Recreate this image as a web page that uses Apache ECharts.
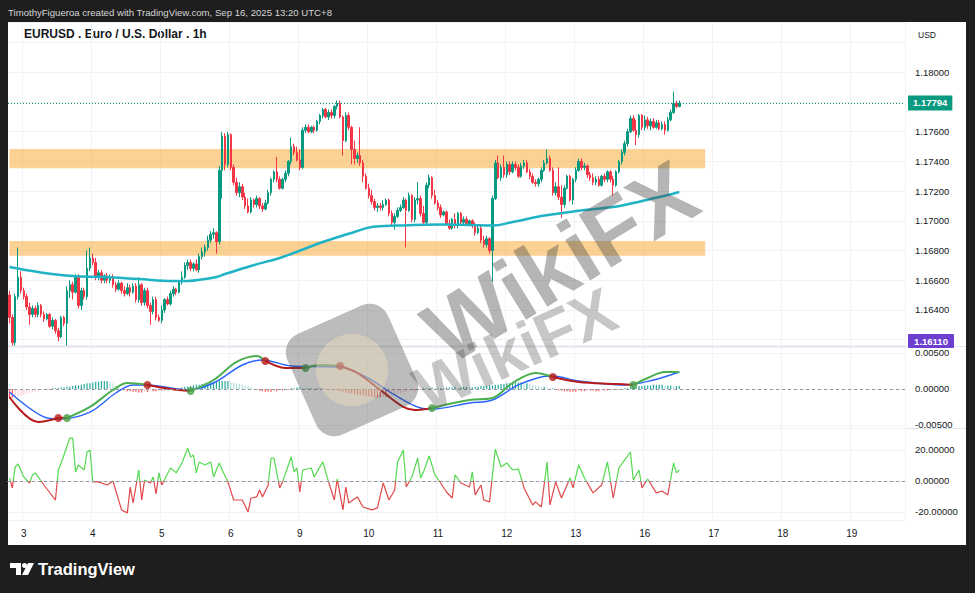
<!DOCTYPE html>
<html><head><meta charset="utf-8">
<script src="https://cdn.jsdelivr.net/npm/echarts@6/dist/echarts.min.js"></script>
<style>
html,body{margin:0;padding:0;background:#1e1e1e;width:975px;height:593px;overflow:hidden;}
#panel{position:absolute;left:8px;top:22px;width:958px;height:523px;background:#fff;}
#chart{position:absolute;left:0;top:0;width:975px;height:593px;}
</style></head><body>
<div id="panel"></div><div id="chart"></div>
<script>
// ---------------- DATA ----------------
const dayLabels = ['3','4','5','6','9','10','11','12','13','16','17','18','19'];
const priceTicks = [1.164,1.166,1.168,1.170,1.172,1.174,1.176,1.180];
const macdTicks = [-0.005,0,0.005];
const oscTicks = [-20,0,20];
// hourly candles: [open, close, low, high]
const candles = [
[1.1650,1.1635,1.1631,1.1653],[1.1635,1.1618,1.1616,1.1637],[1.1618,1.1649,1.1616,1.1651],[1.1649,1.1662,1.1647,1.1682],
[1.1662,1.1653,1.1651,1.1666],[1.1653,1.1649,1.1647,1.1655],[1.1649,1.1642,1.1640,1.1651],[1.1642,1.1637,1.1630,1.1645],
[1.1637,1.1641,1.1635,1.1643],[1.1641,1.1637,1.1635,1.1643],[1.1637,1.1643,1.1635,1.1645],[1.1643,1.1637,1.1635,1.1644],
[1.1637,1.1634,1.1632,1.1639],[1.1634,1.1637,1.1633,1.1638],[1.1637,1.1629,1.1628,1.1638],[1.1629,1.1633,1.1627,1.1635],
[1.1633,1.1626,1.1624,1.1634],[1.1626,1.1622,1.1619,1.1628],[1.1622,1.1635,1.1621,1.1636],[1.1635,1.1631,1.1629,1.1636],
[1.1631,1.1653,1.1616,1.1656],[1.1653,1.1657,1.1648,1.1660],[1.1657,1.1652,1.1647,1.1659],[1.1652,1.1662,1.1651,1.1664],
[1.1662,1.1643,1.1641,1.1664],[1.1643,1.1653,1.1640,1.1655],[1.1653,1.1649,1.1647,1.1655],[1.1649,1.1668,1.1647,1.1680],
[1.1668,1.1675,1.1666,1.1682],[1.1675,1.1672,1.1670,1.1678],[1.1672,1.1662,1.1660,1.1675],[1.1662,1.1665,1.1660,1.1667],
[1.1665,1.1660,1.1658,1.1667],[1.1660,1.1663,1.1658,1.1664],[1.1663,1.1660,1.1658,1.1665],[1.1660,1.1662,1.1658,1.1664],
[1.1662,1.1657,1.1655,1.1664],[1.1657,1.1654,1.1652,1.1659],[1.1654,1.1658,1.1653,1.1660],[1.1658,1.1653,1.1651,1.1659],
[1.1653,1.1651,1.1649,1.1656],[1.1651,1.1655,1.1650,1.1658],[1.1655,1.1652,1.1649,1.1657],[1.1652,1.1656,1.1651,1.1658],
[1.1656,1.1647,1.1645,1.1658],[1.1647,1.1657,1.1645,1.1662],[1.1657,1.1645,1.1643,1.1658],[1.1645,1.1653,1.1643,1.1655],
[1.1653,1.1643,1.1641,1.1655],[1.1643,1.1639,1.1630,1.1645],[1.1639,1.1647,1.1637,1.1649],[1.1647,1.1635,1.1633,1.1649],
[1.1635,1.1633,1.1632,1.1637],[1.1633,1.1640,1.1631,1.1643],[1.1640,1.1647,1.1638,1.1648],[1.1647,1.1644,1.1643,1.1649],
[1.1644,1.1651,1.1643,1.1653],[1.1651,1.1654,1.1649,1.1656],[1.1654,1.1652,1.1650,1.1655],[1.1652,1.1659,1.1651,1.1660],
[1.1659,1.1662,1.1657,1.1666],[1.1662,1.1670,1.1661,1.1672],[1.1670,1.1672,1.1667,1.1674],[1.1672,1.1668,1.1666,1.1674],
[1.1668,1.1671,1.1666,1.1672],[1.1671,1.1667,1.1666,1.1674],[1.1667,1.1676,1.1665,1.1678],[1.1676,1.1679,1.1674,1.1682],
[1.1679,1.1682,1.1676,1.1684],[1.1682,1.1687,1.1680,1.1690],[1.1687,1.1691,1.1685,1.1693],[1.1691,1.1692,1.1688,1.1695],
[1.1692,1.1686,1.1678,1.1693],[1.1686,1.1734,1.1684,1.1737],[1.1734,1.1757,1.1715,1.1760],[1.1757,1.1738,1.1734,1.1759],
[1.1738,1.1758,1.1736,1.1760],[1.1758,1.1736,1.1734,1.1759],[1.1736,1.1726,1.1724,1.1738],[1.1726,1.1719,1.1717,1.1729],
[1.1719,1.1723,1.1716,1.1726],[1.1723,1.1716,1.1714,1.1725],[1.1716,1.1710,1.1708,1.1719],[1.1710,1.1706,1.1705,1.1715],
[1.1706,1.1714,1.1705,1.1716],[1.1714,1.1711,1.1709,1.1715],[1.1711,1.1715,1.1709,1.1717],[1.1715,1.1710,1.1708,1.1716],
[1.1710,1.1708,1.1706,1.1712],[1.1708,1.1712,1.1707,1.1714],[1.1712,1.1719,1.1711,1.1721],[1.1719,1.1728,1.1717,1.1729],
[1.1728,1.1733,1.1726,1.1734],[1.1733,1.1728,1.1726,1.1743],[1.1728,1.1722,1.1721,1.1730],[1.1722,1.1728,1.1721,1.1729],
[1.1728,1.1732,1.1726,1.1734],[1.1732,1.1740,1.1730,1.1741],[1.1740,1.1750,1.1738,1.1756],[1.1750,1.1746,1.1744,1.1752],
[1.1746,1.1741,1.1740,1.1750],[1.1741,1.1736,1.1734,1.1748],[1.1736,1.1761,1.1735,1.1763],[1.1761,1.1763,1.1759,1.1765],
[1.1763,1.1760,1.1759,1.1765],[1.1760,1.1763,1.1759,1.1764],[1.1763,1.1761,1.1759,1.1764],[1.1761,1.1767,1.1760,1.1768],
[1.1767,1.1771,1.1765,1.1772],[1.1771,1.1775,1.1769,1.1776],[1.1775,1.1770,1.1769,1.1776],[1.1770,1.1773,1.1768,1.1775],
[1.1773,1.1771,1.1769,1.1775],[1.1771,1.1777,1.1769,1.1778],[1.1777,1.1779,1.1775,1.1781],[1.1779,1.1770,1.1769,1.1781],
[1.1770,1.1754,1.1744,1.1771],[1.1754,1.1771,1.1753,1.1773],[1.1771,1.1763,1.1761,1.1773],[1.1763,1.1748,1.1738,1.1764],
[1.1748,1.1742,1.1738,1.1754],[1.1742,1.1744,1.1739,1.1746],[1.1744,1.1739,1.1737,1.1763],[1.1739,1.1730,1.1726,1.1741],
[1.1730,1.1722,1.1721,1.1732],[1.1722,1.1717,1.1715,1.1725],[1.1717,1.1713,1.1711,1.1721],[1.1713,1.1709,1.1707,1.1715],
[1.1709,1.1710,1.1706,1.1712],[1.1710,1.1709,1.1707,1.1712],[1.1709,1.1711,1.1707,1.1714],[1.1711,1.1714,1.1710,1.1715],
[1.1714,1.1705,1.1703,1.1715],[1.1705,1.1699,1.1697,1.1707],[1.1699,1.1703,1.1694,1.1705],[1.1703,1.1707,1.1702,1.1709],
[1.1707,1.1709,1.1706,1.1711],[1.1709,1.1714,1.1708,1.1716],[1.1714,1.1707,1.1682,1.1715],[1.1707,1.1717,1.1706,1.1719],
[1.1717,1.1701,1.1699,1.1718],[1.1701,1.1714,1.1699,1.1716],[1.1714,1.1715,1.1711,1.1726],[1.1715,1.1705,1.1703,1.1717],
[1.1705,1.1699,1.1697,1.1710],[1.1699,1.1724,1.1697,1.1726],[1.1724,1.1729,1.1722,1.1731],[1.1729,1.1717,1.1715,1.1730],
[1.1717,1.1712,1.1711,1.1721],[1.1712,1.1709,1.1707,1.1714],[1.1709,1.1704,1.1702,1.1711],[1.1704,1.1706,1.1703,1.1707],
[1.1706,1.1698,1.1697,1.1707],[1.1698,1.1695,1.1694,1.1701],[1.1695,1.1701,1.1694,1.1702],[1.1701,1.1697,1.1695,1.1705],
[1.1697,1.1705,1.1695,1.1706],[1.1705,1.1699,1.1697,1.1706],[1.1699,1.1701,1.1697,1.1703],[1.1701,1.1698,1.1697,1.1703],
[1.1698,1.1700,1.1697,1.1701],[1.1700,1.1697,1.1695,1.1701],[1.1697,1.1692,1.1690,1.1699],[1.1692,1.1695,1.1691,1.1697],
[1.1695,1.1687,1.1685,1.1697],[1.1687,1.1684,1.1682,1.1690],[1.1684,1.1688,1.1682,1.1690],[1.1688,1.1680,1.1678,1.1689],
[1.1680,1.1715,1.1659,1.1717],[1.1715,1.1739,1.1714,1.1741],[1.1739,1.1729,1.1728,1.1744],[1.1729,1.1736,1.1727,1.1738],
[1.1736,1.1731,1.1729,1.1744],[1.1731,1.1738,1.1729,1.1740],[1.1738,1.1733,1.1731,1.1740],[1.1733,1.1738,1.1732,1.1740],
[1.1738,1.1736,1.1734,1.1740],[1.1736,1.1730,1.1729,1.1738],[1.1730,1.1737,1.1729,1.1739],[1.1737,1.1739,1.1735,1.1741],
[1.1739,1.1733,1.1732,1.1741],[1.1733,1.1730,1.1728,1.1735],[1.1730,1.1726,1.1725,1.1732],[1.1726,1.1725,1.1723,1.1728],
[1.1725,1.1728,1.1723,1.1729],[1.1728,1.1734,1.1726,1.1736],[1.1734,1.1739,1.1733,1.1741],[1.1739,1.1742,1.1738,1.1748],
[1.1742,1.1734,1.1733,1.1744],[1.1734,1.1719,1.1717,1.1736],[1.1719,1.1723,1.1717,1.1726],[1.1723,1.1716,1.1714,1.1736],
[1.1716,1.1711,1.1702,1.1724],[1.1711,1.1722,1.1709,1.1724],[1.1722,1.1730,1.1721,1.1731],[1.1730,1.1714,1.1713,1.1731],
[1.1714,1.1728,1.1711,1.1729],[1.1728,1.1734,1.1726,1.1736],[1.1734,1.1740,1.1733,1.1742],[1.1740,1.1736,1.1734,1.1742],
[1.1736,1.1737,1.1734,1.1739],[1.1737,1.1731,1.1729,1.1738],[1.1731,1.1729,1.1727,1.1733],[1.1729,1.1726,1.1724,1.1732],
[1.1726,1.1728,1.1724,1.1730],[1.1728,1.1724,1.1723,1.1730],[1.1724,1.1730,1.1723,1.1731],[1.1730,1.1728,1.1726,1.1732],
[1.1728,1.1733,1.1726,1.1734],[1.1733,1.1728,1.1726,1.1734],[1.1728,1.1724,1.1717,1.1730],[1.1724,1.1733,1.1723,1.1734],
[1.1733,1.1740,1.1732,1.1741],[1.1740,1.1746,1.1738,1.1748],[1.1746,1.1752,1.1744,1.1754],[1.1752,1.1760,1.1750,1.1762],
[1.1760,1.1769,1.1759,1.1771],[1.1769,1.1761,1.1760,1.1771],[1.1761,1.1758,1.1751,1.1768],[1.1758,1.1771,1.1756,1.1772],
[1.1771,1.1763,1.1761,1.1772],[1.1763,1.1768,1.1761,1.1771],[1.1768,1.1764,1.1762,1.1770],[1.1764,1.1767,1.1761,1.1769],
[1.1767,1.1763,1.1762,1.1769],[1.1763,1.1766,1.1762,1.1768],[1.1766,1.1762,1.1761,1.1768],[1.1762,1.1765,1.1761,1.1767],
[1.1765,1.1761,1.1758,1.1767],[1.1761,1.1768,1.1760,1.1770],[1.1768,1.1773,1.1767,1.1775],[1.1773,1.1779,1.1772,1.1787],
[1.1779,1.1777,1.1776,1.1781],[1.17770,1.17794,1.17765,1.17810]
];
// slow moving average: [bar, value]
const maLine = [[0,1.16689],[10,1.16655],[22,1.16628],[33,1.16622],[45,1.16608],[57,1.16595],[62,1.16595],[68,1.16608],
[72,1.16622],[75,1.16642],[84,1.16696],[94,1.16750],[98,1.16777],[110,1.16864],[120,1.16925],[126,1.16958],[135,1.16968],
[150,1.16975],[160,1.16972],[168,1.16968],[175,1.16992],[185,1.17032],[200,1.17073],[210,1.17093],[217,1.17120],
[223,1.17147],[229,1.17174],[233,1.17194]];
// support / resistance zones [top, bottom, lastBar]
const zones = [[1.17483,1.17355,242],[1.16864,1.16765,242]];
const lowLabel = '1.16110';
// MACD panel
const macdFast = [[0,-0.00111],[10,-0.00458],[17,-0.00403],[20,-0.00403],[28,-0.00250],[36,-0.00014],[41,0.00083],[48,0.00056],
[56,0.0],[63,-0.00028],[71,0.00125],[79,0.00375],[86,0.00458],[89,0.00389],[96,0.00292],[103,0.00292],[108,0.00333],
[115,0.00320],[121,0.00222],[129,-0.00014],[137,-0.00250],[141,-0.00292],[147,-0.00264],[160,-0.00153],[168,-0.00125],
[175,0.00083],[183,0.00222],[189,0.00167],[198,0.00097],[211,0.00070],[217,0.00056],[222,0.00153],[228,0.00236],[233,0.00236]];
const macdSlow = [[0,-0.00042],[12,-0.00389],[17,-0.00417],[28,-0.00320],[37,-0.00056],[43,0.00056],[48,0.00056],[62,-0.00014],
[71,0.00083],[81,0.00333],[88,0.00403],[98,0.00320],[115,0.00306],[124,0.00167],[134,-0.00083],[143,-0.00264],[147,-0.00278],
[160,-0.00195],[168,-0.00153],[177,0.00056],[185,0.00167],[189,0.00181],[198,0.00111],[214,0.00056],[224,0.00125],[233,0.00236]];
const fastStartTrend = 'down';
const macdCross = [[17,-0.00403,'down'],[20,-0.00403,'up'],[48,0.00056,'down'],[63,-0.00028,'up'],[89,0.00389,'down'],
[103,0.00292,'up'],[115,0.00320,'down'],[147,-0.00264,'up'],[189,0.00167,'down'],[217,0.00056,'up']];
const macdHist = [
-0.0012,-0.0012,-0.0011,-0.0010,-0.0009,-0.0008,-0.0007,-0.0006,-0.0005,-0.0004,-0.0003,-0.0002,
-0.0001,-0.0001,-0.0001,0.0001,0.0001,0.0001,0.0002,0.0002,
0.0003,0.0003,0.0004,0.0005,0.0005,0.0006,0.0007,0.0008,0.0008,0.0009,0.0010,0.0010,0.0011,0.0011,0.0011,0.0010,0.0008,0.0005,0.0002,
-0.0001,-0.0002,-0.0003,-0.0003,-0.0004,-0.0004,-0.0005,-0.0005,-0.0004,-0.0004,-0.0003,-0.0003,-0.0003,-0.0002,-0.0002,-0.0002,-0.0001,-0.0001,-0.0001,0.0000,
0.0001,0.0002,0.0003,0.0003,0.0004,0.0005,0.0006,0.0006,0.0007,0.0008,0.0009,0.0009,0.0010,0.0010,0.0011,0.0011,0.0011,0.0011,0.0010,0.0009,0.0008,0.0007,0.0006,0.0005,0.0004,0.0003,0.0001,
-0.0001,-0.0002,-0.0003,-0.0004,-0.0004,-0.0004,-0.0003,-0.0003,-0.0002,-0.0002,-0.0001,-0.0001,0.0001,0.0001,0.0002,0.0002,0.0001,0.0001,0.0001,0.0001,0.0000,
0.0001,0.0001,0.0001,0.0000,-0.0001,-0.0001,-0.0002,-0.0002,-0.0003,
-0.0004,-0.0005,-0.0006,-0.0006,-0.0007,-0.0008,-0.0008,-0.0009,-0.0010,-0.0010,-0.0011,-0.0012,-0.0012,-0.0012,-0.0011,-0.0011,-0.0010,-0.0009,-0.0008,-0.0007,-0.0006,-0.0005,-0.0004,-0.0003,-0.0002,
-0.0002,-0.0001,-0.0001,0.0001,0.0001,0.0001,0.0002,0.0001,0.0001,0.0001,
0.0001,0.0002,0.0002,0.0002,0.0003,0.0002,0.0002,0.0003,0.0003,0.0002,0.0002,0.0003,0.0003,0.0004,0.0004,0.0004,0.0005,0.0005,0.0006,0.0006,0.0007,0.0007,0.0008,0.0008,0.0009,0.0009,0.0009,0.0009,0.0008,0.0008,0.0007,0.0006,0.0005,0.0004,0.0003,0.0003,0.0002,0.0001,0.0001,
-0.0001,-0.0002,-0.0002,-0.0003,-0.0003,-0.0004,-0.0004,-0.0004,-0.0003,-0.0003,-0.0003,-0.0002,-0.0002,-0.0002,-0.0003,-0.0003,-0.0002,-0.0002,-0.0002,-0.0001,-0.0001,-0.0001,-0.0001,0.0000,0.0001,0.0001,
0.0002,0.0003,0.0003,0.0004,0.0004,0.0005,0.0005,0.0005,0.0006,0.0006,0.0006,0.0006,0.0005,0.0005,0.0005,0.0004,0.0004,0.0004
];
// oscillator panel: [bar, value]
const osc = [[0,1.9],[1,-4.5],[2,9.0],[3,11.0],[5,2.6],[7,-1.3],[8,3.9],[9,5.2],[10,2.6],[12,-2.6],[16,-12.3],[17,7.1],[18,11.6],
[21,27.7],[22,27.7],[23,5.8],[24,10.3],[26,7.1],[27,18.7],[28,20.0],[29,-0.6],[31,-0.6],[34,-2.6],[36,0],[39,-18.7],[41,-20.6],
[42,-3.9],[43,-14.2],[45,7.1],[46,-12.3],[47,0.6],[49,-1.3],[50,2.6],[51,-8.4],[52,5.2],[53,-2.6],[56,8.4],[58,5.2],[60,11.6],
[62,21.3],[63,15.5],[64,16.8],[65,5.2],[66,12.3],[68,10.3],[70,12.3],[71,2.6],[73,11.6],[74,7.1],[76,-0.6],[78,-12.3],[81,-12.3],
[83,-20.0],[84,-11.0],[86,-10.3],[87,-5.8],[88,-10.3],[90,-2.6],[91,14.8],[92,14.8],[94,-4.5],[95,-0.6],[98,15.5],[99,5.8],
[100,8.4],[101,-7.1],[102,7.1],[105,8.4],[106,2.6],[109,12.3],[111,-0.6],[113,-12.3],[114,1.3],[116,-18.7],[117,-3.9],
[118,-14.2],[121,-10.3],[123,-16.8],[126,-18.7],[128,-17.4],[130,-1.3],[132,-12.3],[134,-5.8],[135,12.3],[137,20.0],[138,-3.9],
[140,2.6],[142,14.8],[143,1.9],[144,5.8],[146,16.1],[148,3.9],[150,-1.3],[152,-7.1],[154,-11.0],[155,3.9],[157,-1.3],[160,-3.9],
[161,5.8],[162,-9.0],[164,-2.6],[165,-12.3],[167,-13.5],[169,20.6],[171,9.0],[173,11.6],[175,7.1],[177,7.7],[178,1.9],[179,-4.5],
[182,-15.5],[183,-13.5],[185,-16.8],[187,12.3],[188,-15.5],[190,-0.6],[192,-11.0],[195,1.9],[196,-4.5],[198,10.3],[200,1.9],
[203,-7.7],[206,-2.6],[208,12.3],[210,-11.0],[212,8.4],[216,18.7],[217,0.6],[219,7.1],[220,-4.5],[222,1.3],[225,-7.7],
[227,-6.5],[229,-9.0],[231,11.6],[232,5.2],[233,7.1]];

// ---------------- CHART ----------------
const FONT = 'Liberation Sans, Arial, sans-serif';
const TXT = '#131722';
const UP = '#089981', DOWN = '#f23645';
const N_SLOTS = 312, FIRST_DAY_BAR = 5, BARS_PER_DAY = 24;
const categories = Array.from({length: N_SLOTS}, (_, i) => String(i));
const labelAt = {};
dayLabels.forEach((d, k) => { labelAt[FIRST_DAY_BAR + k * BARS_PER_DAY] = d; });
const isDay = (i) => labelAt[i] !== undefined;

function xAx(g, show) {
  return {
    type: 'category', gridIndex: g, data: categories, boundaryGap: true,
    axisLine: {show: show, lineStyle: {color: '#e0e3eb'}}, axisTick: {show: false},
    axisLabel: {show: show, interval: (i) => isDay(i), formatter: (v) => labelAt[+v] || '',
      color: TXT, fontSize: 10, margin: 8, fontFamily: FONT},
    splitLine: {show: true, interval: (i) => isDay(i), lineStyle: {color: '#f0f2f5', width: 1}}
  };
}
function yAx(g, min, max, step, ticks) {
  const shown = (v) => ticks.some(t => Math.abs(t - v) < step * 1e-3);
  return {
    type: 'value', gridIndex: g, position: 'right', min: min, max: max, minInterval: step, maxInterval: step,
    axisLine: {show: false}, axisTick: {show: false},
    axisLabel: {formatter: (v) => shown(v) ? v.toFixed(5) : '', color: TXT, fontSize: 9.5, margin: 10, fontFamily: FONT,
      showMinLabel: false, showMaxLabel: false},
    splitLine: {show: true, lineStyle: {color: '#f0f2f5'}}
  };
}

const lastPrice = candles[candles.length - 1][1];
const GREEN_L = '#4caf50', RED_L = '#b71c1c';

const histData = macdHist.map((v, i) => {
  const prev = i > 0 ? macdHist[i - 1] : v;
  let c;
  if (v >= 0) c = v >= prev ? '#26a69a' : '#b2dfdb';
  else c = v <= prev ? '#ff5252' : '#ffcdd2';
  return {value: v, itemStyle: {color: c}};
});

const series = [
  { type: 'candlestick', xAxisIndex: 0, yAxisIndex: 0, data: candles, barWidth: 2,
    itemStyle: {color: UP, color0: DOWN, borderColor: UP, borderColor0: DOWN, borderWidth: 1},
    markArea: { silent: true, itemStyle: {color: 'rgba(247,166,40,0.5)'},
      data: zones.map(z => [{xAxis: '0', yAxis: z[0]}, {xAxis: String(z[2]), yAxis: z[1]}]) },
    z: 3
  },
  { type: 'line', xAxisIndex: 0, yAxisIndex: 0, data: maLine, smooth: 0.4, showSymbol: false,
    lineStyle: {color: '#1fb3c5', width: 2.5}, z: 4,
    markLine: { silent: true, symbol: ['none', 'none'], animation: false, precision: 5,
      lineStyle: {color: UP, type: [1, 2], width: 1},
      label: {show: true, position: 'end', formatter: (p) => Number(p.value).toFixed(5), color: '#fff',
        backgroundColor: UP, padding: [3, 5, 2, 5], fontSize: 9.5, fontWeight: 'bold', distance: 3, fontFamily: FONT},
      data: [{yAxis: lastPrice}] } },
  { type: 'bar', xAxisIndex: 1, yAxisIndex: 1, data: histData, barWidth: 1.2,
    markLine: { silent: true, symbol: ['none', 'none'], label: {show: false},
      lineStyle: {color: '#9598a1', type: [3, 3], width: 1}, data: [{yAxis: 0}] } },
  { type: 'line', xAxisIndex: 2, yAxisIndex: 2, data: osc, showSymbol: false, lineStyle: {width: 1.2},
    markLine: { silent: true, symbol: ['none', 'none'], label: {show: false},
      lineStyle: {color: '#9598a1', type: [3, 3], width: 1}, data: [{yAxis: 0}] } },
  { type: 'line', xAxisIndex: 1, yAxisIndex: 1, data: macdSlow, smooth: 0.35, showSymbol: false,
    lineStyle: {color: '#2962ff', width: 1.4}, z: 3 },
  { type: 'scatter', xAxisIndex: 1, yAxisIndex: 1, symbolSize: 8, z: 6,
    data: macdCross.map(c => ({value: [c[0], c[1]], itemStyle: {color: c[2] === 'up' ? '#43a047' : '#b71c1c'}})) }
];
const bounds = [0].concat(macdCross.map(c => c[0])).concat([Infinity]);
for (let s = 0; s < bounds.length - 1; s++) {
  const pts = macdFast.filter(p => p[0] >= bounds[s] && p[0] <= bounds[s + 1]);
  const st = s === 0 ? fastStartTrend : macdCross[s - 1][2];
  if (pts.length > 1) series.push({ type: 'line', xAxisIndex: 1, yAxisIndex: 1, data: pts, smooth: 0.35,
    showSymbol: false, lineStyle: {color: st === 'up' ? GREEN_L : RED_L, width: 2}, z: 4 });
}

const graphic = [
  {type: 'text', x: 8, y: 12, style: {text: 'TimothyFigueroa created with TradingView.com, Sep 16, 2025 13:20 UTC+8',
    fill: '#d6d6d6', fontSize: 9.6, fontFamily: FONT, verticalAlign: 'middle'}},
  {type: 'text', x: 24, y: 34, style: {text: 'EURUSD . Euro / U.S. Dollar . 1h', fill: TXT, fontSize: 12,
    fontWeight: 'bold', fontFamily: FONT, verticalAlign: 'middle'}},
  {type: 'text', x: 918, y: 35, style: {text: 'USD', fill: TXT, fontSize: 8.5, fontFamily: FONT, verticalAlign: 'middle'}},
  {type: 'line', shape: {x1: 8, y1: 346.5, x2: 966, y2: 346.5}, style: {stroke: '#e0e3eb', lineWidth: 1}},
  {type: 'line', shape: {x1: 8, y1: 428.5, x2: 966, y2: 428.5}, style: {stroke: '#e0e3eb', lineWidth: 1}},
  {type: 'rect', shape: {x: 908, y: 334, width: 46, height: 14, r: 1}, style: {fill: '#6d3fd0'}, z: 10},
  {type: 'text', x: 931, y: 341.5, style: {text: lowLabel, fill: '#fff', fontSize: 9.5, fontWeight: 'bold',
    fontFamily: FONT, align: 'center', verticalAlign: 'middle'}, z: 11},
  // TradingView logo
  {type: 'polygon', shape: {points: [[10,563],[21,563],[21,575],[16,575],[16,568],[10,568]]}, style: {fill: '#fff'}},
  {type: 'circle', shape: {cx: 24.5, cy: 565.5, r: 2.5}, style: {fill: '#fff'}},
  {type: 'polygon', shape: {points: [[28,563],[34,563],[28,575],[22,575]]}, style: {fill: '#fff'}},
  {type: 'text', x: 38, y: 569, style: {text: 'TradingView', fill: '#fff', fontSize: 16.5, fontWeight: 'bold',
    fontFamily: FONT, verticalAlign: 'middle'}},
  // WikiFX watermark
  {type: 'rect', x: 352, y: 370, rotation: 0.42, shape: {x: -55, y: -55, width: 110, height: 110, r: 20},
    style: {fill: 'rgba(70,70,70,0.36)'}, z: 20},
  {type: 'circle', x: 352, y: 370, shape: {cx: 0, cy: 0, r: 36}, style: {fill: 'rgba(240,225,190,0.45)'}, z: 21},
  {type: 'text', x: 560, y: 262, rotation: 0.55, style: {text: 'WikiFX', fill: 'rgba(70,70,70,0.4)', fontSize: 90,
    fontWeight: 'bold', fontFamily: FONT, align: 'center', verticalAlign: 'middle'}, z: 20},
  {type: 'text', x: 515, y: 350, rotation: 0.42, style: {text: 'WikiFX', fill: 'rgba(70,70,70,0.3)', fontSize: 64,
    fontWeight: 'bold', fontFamily: FONT, align: 'center', verticalAlign: 'middle'}, z: 20}
];

const chart = echarts.init(document.getElementById('chart'), null, {renderer: 'svg'});
chart.setOption({
  animation: false,
  backgroundColor: 'transparent',
  textStyle: {fontFamily: FONT},
  grid: [
    {left: 8, right: 70, top: 22, height: 323},
    {left: 8, right: 70, top: 347, height: 81},
    {left: 8, right: 70, top: 428, height: 92}
  ],
  xAxis: [xAx(0, false), xAx(1, false), xAx(2, true)],
  yAxis: [yAx(0, 1.16164, 1.18339, 0.002, priceTicks), yAx(1, -0.00542, 0.00583, 0.005, macdTicks), yAx(2, -25.2, 34.2, 20, oscTicks)],
  visualMap: [{type: 'piecewise', show: false, seriesIndex: 3, dimension: 1,
    pieces: [{gt: 0, lte: 100, color: '#55d94f'}, {gt: -100, lte: 0, color: '#e0484a'}]}],
  series: series,
  graphic: graphic
});
</script>
</body></html>
